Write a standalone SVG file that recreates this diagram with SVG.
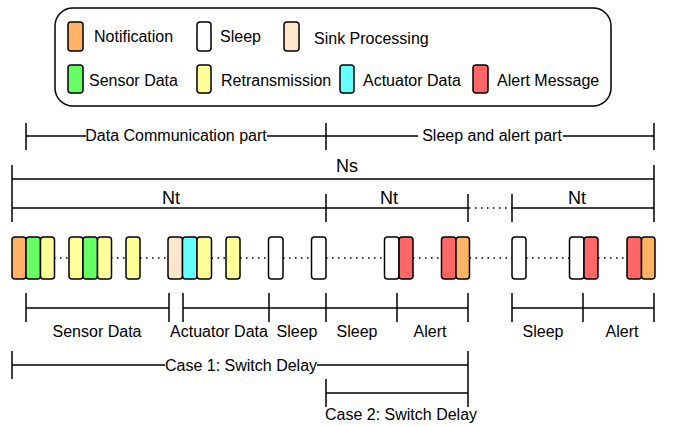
<svg xmlns="http://www.w3.org/2000/svg" width="676" height="426" viewBox="0 0 676 426">
<style>
text{font-family:"Liberation Sans",Arial,sans-serif;font-size:16px;fill:#000}
.big{font-size:18px}
.mid{text-anchor:middle}
.b{stroke:#000;stroke-width:1.5;rx:3px}
.or{fill:#FFB366}.gr{fill:#66FF66}.ye{fill:#FFFF99}.pe{fill:#FFE6CC}.cy{fill:#66FFFF}.re{fill:#FF6666}.wh{fill:#FFFFFF}
.ln{stroke:#000;stroke-width:1.5;fill:none}
.dot{stroke:#000;stroke-width:1.5;stroke-dasharray:1.5 4.5;fill:none}
</style>
<rect width="676" height="426" fill="#fff"/>
<g id="legend">
<rect x="55" y="8" width="556" height="98" rx="18" fill="#fff" stroke="#000" stroke-width="1.5"/>
<rect class="b or" x="68" y="22" width="15" height="29"/><text x="94" y="42">Notification</text>
<rect class="b wh" x="197" y="22" width="14" height="29"/><text x="220" y="42">Sleep</text>
<rect class="b pe" x="284" y="22" width="15" height="29"/><text x="314" y="44">Sink Processing</text>
<rect class="b gr" x="68" y="65" width="15" height="28"/><text x="89" y="86">Sensor Data</text>
<rect class="b ye" x="197" y="65" width="14" height="28"/><text x="221" y="86">Retransmission</text>
<rect class="b cy" x="340" y="65" width="14" height="28"/><text x="363" y="86">Actuator Data</text>
<rect class="b re" x="473" y="65" width="15" height="28"/><text x="497" y="86">Alert Message</text>
</g>
<g id="parts">
<path class="ln" d="M26 123V150M326 123V150M654 123V150M26 136H86M267 136H418M563 136H654"/>
<text x="176" y="141" class="mid">Data Communication part</text>
<text x="492" y="141" class="mid">Sleep and alert part</text>
</g>
<g id="ns">
<path class="ln" d="M12 165V222M654 165V222M12 179H654"/>
<text x="347" y="172" class="big mid">Ns</text>
</g>
<g id="nt">
<path class="ln" d="M12 208H468M512 208H654M326 194V222M468 194V222M512 194V222"/>
<path class="dot" d="M469 208H512"/>
<text x="171" y="204" class="big mid">Nt</text>
<text x="389" y="204" class="big mid">Nt</text>
<text x="577" y="204" class="big mid">Nt</text>
</g>
<g id="connectors">
<path class="dot" d="M54 258H69M111 258H126M140 258H168M211.5 258H226M240 258H268.5M283 258H311.5M326 258H384.5M413 258H441.5M469.5 258H512M526 258H569.5M598 258H627"/>
</g>
<g id="slot1"><rect class="b or" x="12" y="237" width="14" height="42"/><rect class="b gr" x="26" y="237" width="14.5" height="42"/><rect class="b ye" x="40.5" y="237" width="14" height="42"/></g>
<g id="slot2"><rect class="b ye" x="69" y="237" width="14" height="42"/><rect class="b gr" x="83" y="237" width="14.5" height="42"/><rect class="b ye" x="97.5" y="237" width="14" height="42"/></g>
<g id="slot3"><rect class="b ye" x="126" y="237" width="14" height="42"/></g>
<g id="slot4"><rect class="b pe" x="168" y="237" width="14.5" height="42"/><rect class="b cy" x="182.5" y="237" width="14.5" height="42"/><rect class="b ye" x="197" y="237" width="14.5" height="42"/></g>
<g id="slot5"><rect class="b ye" x="226" y="237" width="14" height="42"/></g>
<g id="slot6"><rect class="b wh" x="268.5" y="237" width="14.5" height="42"/></g>
<g id="slot7"><rect class="b wh" x="311.5" y="237" width="14.5" height="42"/></g>
<g id="slot8"><rect class="b wh" x="384.5" y="237" width="14.5" height="42"/><rect class="b re" x="399" y="237" width="14" height="42"/></g>
<g id="slot9"><rect class="b re" x="441.5" y="237" width="14.5" height="42"/><rect class="b or" x="456" y="237" width="13.5" height="42"/></g>
<g id="slot10"><rect class="b wh" x="512" y="237" width="14" height="42"/></g>
<g id="slot11"><rect class="b wh" x="569.5" y="237" width="14.5" height="42"/><rect class="b re" x="584" y="237" width="14" height="42"/></g>
<g id="slot12"><rect class="b re" x="627" y="237" width="14.5" height="42"/><rect class="b or" x="641.5" y="237" width="13.5" height="42"/></g>
<g id="phases">
<path class="ln" d="M26 293V322M169 293V322M26 308H169M183 293V322M269 293V322M326 293V322M397 293V322M468 293V322M183 308H468M512 293V322M583 293V322M654 293V322M512 308H654"/>
<text x="97" y="337" class="mid">Sensor Data</text>
<text x="219" y="337" class="mid">Actuator Data</text>
<text x="297" y="337" class="mid">Sleep</text>
<text x="357" y="337" class="mid">Sleep</text>
<text x="430" y="337" class="mid">Alert</text>
<text x="543" y="337" class="mid">Sleep</text>
<text x="622" y="337" class="mid">Alert</text>
</g>
<g id="case1">
<path class="ln" d="M12 351V379M12 365H165M317 365H468M468 351V407"/>
<text x="241" y="371" class="mid">Case 1: Switch Delay</text>
</g>
<g id="case2">
<path class="ln" d="M326 379V407M326 393H468"/>
<text x="401" y="420" class="mid">Case 2: Switch Delay</text>
</g>
</svg>
